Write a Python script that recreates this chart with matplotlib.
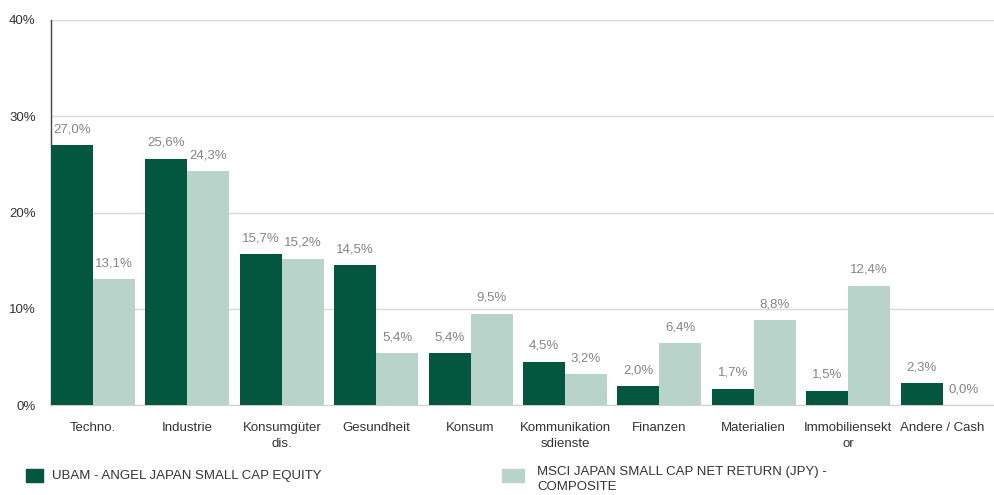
import matplotlib
matplotlib.use("Agg")
import matplotlib.pyplot as plt
from matplotlib.patches import Rectangle

plt.rcParams['font.family'] = ['Liberation Sans', 'DejaVu Sans']

categories = ['Techno.', 'Industrie', 'Konsumgüter\ndis.', 'Gesundheit', 'Konsum',
              'Kommunikation\nsdienste', 'Finanzen', 'Materialien', 'Immobiliensekt\nor',
              'Andere / Cash']
fund = [27.0, 25.6, 15.7, 14.5, 5.4, 4.5, 2.0, 1.7, 1.5, 2.3]
bench = [13.1, 24.3, 15.2, 5.4, 9.5, 3.2, 6.4, 8.8, 12.4, 0.0]
fund_name = 'UBAM - ANGEL JAPAN SMALL CAP EQUITY'
bench_name = 'MSCI JAPAN SMALL CAP NET RETURN (JPY) -\nCOMPOSITE'
yticks = [0, 10, 20, 30, 40]

dark = '#03573f'
light = '#b8d3ca'
w = 0.445


def fmt(v):
    return f'{v:.1f}%'.replace('.', ',')


fig = plt.figure(figsize=(9.95, 4.95), dpi=100)
ax = fig.add_axes([51 / 995, 1 - 405 / 495, 944 / 995, 385 / 495])

xs = list(range(len(categories)))
ax.bar(xs, fund, width=w, align='edge', color=dark, zorder=3)
ax.bar([x + w for x in xs], bench, width=w, align='edge', color=light, zorder=3)

for x, v in zip(xs, fund):
    ax.annotate(fmt(v), (x + w / 2, v), xytext=(0, 7), textcoords='offset points',
                ha='center', va='bottom', fontsize=9.5, color='#858585')
for x, v in zip(xs, bench):
    ax.annotate(fmt(v), (x + 1.5 * w, v), xytext=(0, 7), textcoords='offset points',
                ha='center', va='bottom', fontsize=9.5, color='#858585')

ax.set_xlim(0, len(categories))
ax.set_ylim(0, 40)
ax.set_yticks(yticks)
ax.set_yticklabels([f'{t}%' for t in yticks])
ax.set_xticks([x + w for x in xs])
ax.set_xticklabels(categories, linespacing=1.5)
ax.tick_params(axis='both', length=0, labelsize=9.5, colors='#333333')
ax.tick_params(axis='y', pad=11)
ax.tick_params(axis='x', pad=12)
ax.grid(axis='y', color='#d9d9d9', linewidth=1, zorder=0)
for s in ['top', 'right']:
    ax.spines[s].set_visible(False)
ax.spines['bottom'].set_color('#d0d0d0')
ax.spines['left'].set_color('#444444')
ax.spines['left'].set_linewidth(1)

# legend
fig.patches.append(Rectangle((26 / 995, 1 - 482 / 495), 17 / 995, 13 / 495,
                             transform=fig.transFigure, color=dark))
fig.text(52 / 995, 1 - 475.5 / 495, fund_name, fontsize=9.5, color='#333333', va='center')
fig.patches.append(Rectangle((502 / 995, 1 - 482 / 495), 22 / 995, 13 / 495,
                             transform=fig.transFigure, color=light))
fig.text(537 / 995, 1 - 466 / 495, bench_name, fontsize=9.5, color='#333333', va='top',
         linespacing=1.3)

fig.savefig('out.png', dpi=100)
